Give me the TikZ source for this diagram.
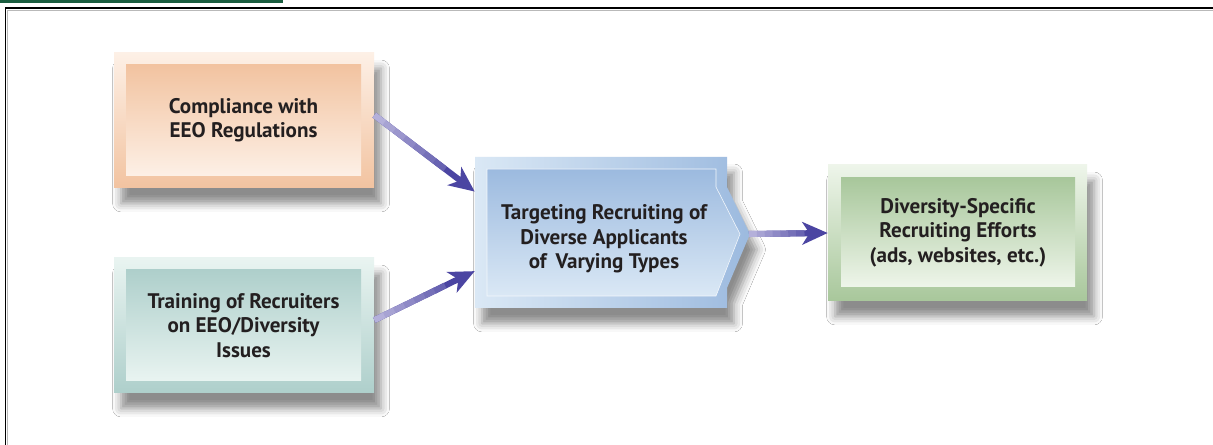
\documentclass[tikz,border=0pt]{standalone}
\usepackage{fontspec}
\setmainfont{PT Sans}
\usetikzlibrary{shadows.blur,arrows.meta,calc,fit}
\definecolor{orLight}{HTML}{FDF0E6}
\definecolor{orDark}{HTML}{F2C3A0}
\definecolor{tlLight}{HTML}{E9F4F1}
\definecolor{tlDark}{HTML}{AECFCB}
\definecolor{blLight}{HTML}{DAE8F5}
\definecolor{blDark}{HTML}{9CBADF}
\definecolor{gnLight}{HTML}{EEF5EA}
\definecolor{gnDark}{HTML}{A8C79B}
\definecolor{arrDark}{HTML}{4B45A2}
\definecolor{arrLight}{HTML}{B4B0DA}
\definecolor{txt}{HTML}{231F20}
\definecolor{barGreen}{HTML}{1B5E40}
\tikzset{
  boxshadow/.style={blur shadow={shadow xshift=5pt, shadow yshift=-11pt, shadow blur radius=6pt, shadow opacity=45}},
  outerbox/.style={inner sep=0pt, boxshadow},
  innerbox/.style={inner sep=0pt},
  lbl/.style={font=\bfseries\fontsize{15}{17.3}\selectfont, align=center, text=txt},
  arrbase/.style={draw=arrDark, line width=4.3pt, -{Stealth[length=18pt, width=16pt, inset=5pt]}},
}
\newcommand{\gradarrow}[2]{%
  \draw[arrbase] #1 -- #2;
  \foreach \i in {0,...,6}{%
    \pgfmathsetmacro{\ta}{\i/10}%
    \pgfmathsetmacro{\tb}{(\i+1)/10+0.005}%
    \pgfmathsetmacro{\mix}{100-\i*12}%
    \draw[line width=4.3pt, draw=arrLight!\mix!arrDark] ($#1!\ta!#2$) -- ($#1!\tb!#2$);
  }%
}
\begin{document}
\begin{tikzpicture}[x=0.025cm,y=-0.025cm]
\useasboundingbox (0,0) rectangle (1213,445);
\fill[white] (0,0) rectangle (1213,445);
% header bar and frame
\fill[barGreen] (0,0) rectangle (283,3.5);
\draw[gray!55, line width=0.8pt] (7.8,445) -- (7.8,10.3) -- (1213,10.3);
\draw[black, line width=1.1pt] (5.5,445) -- (5.5,8) -- (1213,8);

% box 1: compliance
\node[outerbox, fit={(114,53)(374,188)}, top color=orLight, bottom color=orDark] (c1o) {};
\node[innerbox, fit={(126,65)(361,176)}, top color=orDark, bottom color=orLight] (c1i) {};
\node[lbl] (c1) at (c1i.center) {Compliance with\\EEO Regulations};

% box 2: training
\node[outerbox, fit={(114,258)(374,393)}, top color=tlLight, bottom color=tlDark] (c2o) {};
\node[innerbox, fit={(126,270)(361,381)}, top color=tlDark, bottom color=tlLight] (c2i) {};
\node[lbl] (c2) at (c2i.center) {Training of Recruiters\\on EEO/Diversity\\Issues};

% centre: targeting
\node[inner sep=0pt, fit={(475,157)(727,308)}] (tgt) {};
\path[boxshadow, left color=blLight, right color=blDark]
  (475,157) -- (727,157) -- (727,187) -- (750,234) -- (727,288) -- (727,308) -- (475,308) -- cycle;
\path[top color=blDark, bottom color=blLight, draw=white!70!blLight, line width=0.4pt]
  (487,169) -- (716,169) -- (716,187) -- (740,234) -- (716,296) -- (487,296) -- cycle;
\coordinate (tip) at (749,234);
\node[lbl] (tl) at (604,239) {Targeting Recruiting of\\Diverse Applicants\\of\, Varying Types};

% box 4: diversity-specific
\node[outerbox, fit={(828,165)(1087,301)}, top color=gnLight, bottom color=gnDark] (d4o) {};
\node[innerbox, fit={(841,178)(1075,287)}, top color=gnDark, bottom color=gnLight] (d4i) {};
\node[lbl] (d4) at (d4i.center) {Diversity-Specific\\Recruiting Efforts\\(ads, websites, etc.)};

% arrows
\gradarrow{($(c1o.north east)!0.46!(c1o.south east)$)}{($(tgt.north west)!0.23!(tgt.south west)$)}
\gradarrow{($(c2o.north east)!0.46!(c2o.south east)$)}{($(tgt.north west)!0.755!(tgt.south west)$)}
\gradarrow{(tip)}{(d4o.west)}
\end{tikzpicture}
\end{document}
